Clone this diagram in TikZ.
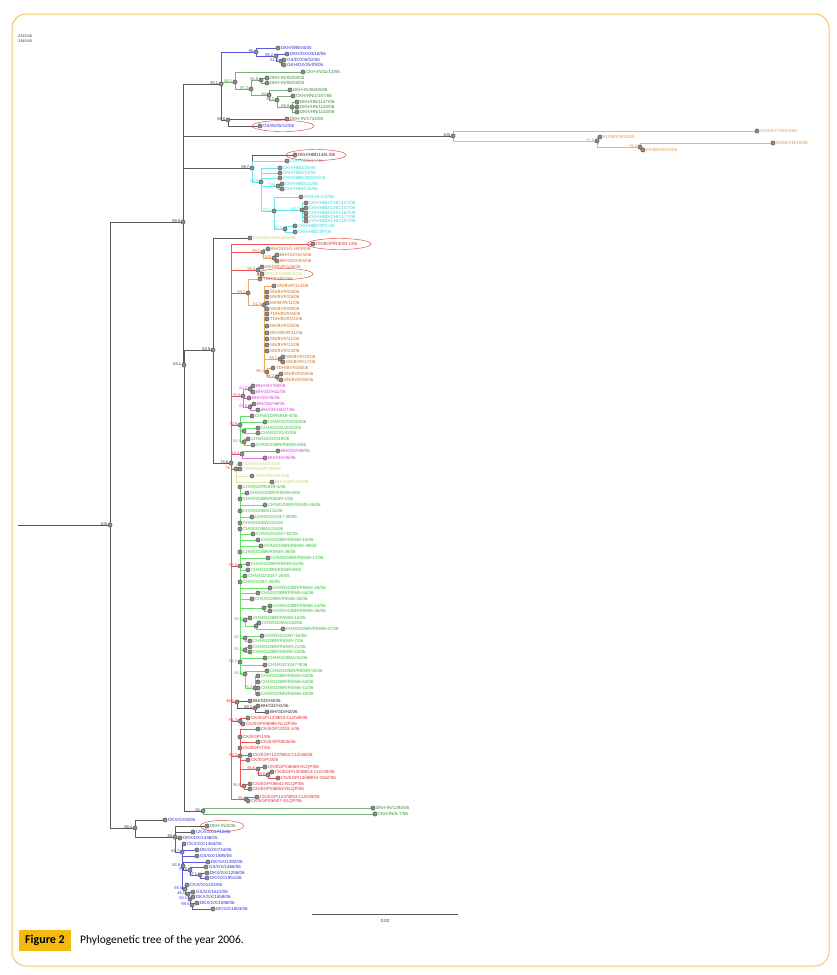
\documentclass[tikz,border=0pt]{standalone}
\usepackage{fontspec}
\newfontfamily\lblfont{Liberation Sans}
\newfontfamily\capfont{Carlito}
\usetikzlibrary{shapes.geometric}
\pgfdeclarelayer{background}
\pgfsetlayers{background,main}
\definecolor{ndf}{HTML}{8C8C8C}
\definecolor{ndc}{HTML}{4A4A4A}
\definecolor{bkL}{HTML}{5A5A5A}
\definecolor{bkT}{HTML}{303030}
\definecolor{blT}{HTML}{3030D0}
\definecolor{blL}{HTML}{5858E0}
\definecolor{dgT}{HTML}{3A8A3A}
\definecolor{dgL}{HTML}{78B478}
\definecolor{orT}{HTML}{E8954A}
\definecolor{orL}{HTML}{F2B27A}
\definecolor{cyT}{HTML}{30D8D8}
\definecolor{cyL}{HTML}{66EAEA}
\definecolor{rdT}{HTML}{E03030}
\definecolor{rdL}{HTML}{F05454}
\definecolor{brT}{HTML}{D07020}
\definecolor{brL}{HTML}{F4A858}
\definecolor{mgT}{HTML}{D040D0}
\definecolor{mgL}{HTML}{E070E0}
\definecolor{grT}{HTML}{30C030}
\definecolor{grL}{HTML}{66E066}
\definecolor{ylT}{HTML}{CFCF7A}
\definecolor{ylL}{HTML}{E6E6AA}
\definecolor{hlc}{HTML}{E04040}
\definecolor{frm}{HTML}{F6C366}
\definecolor{capy}{HTML}{F5B90F}
\tikzset{
  nd/.style={circle,draw=ndc,fill=ndf,line width=0.35pt,inner sep=0pt,minimum size=4.3pt},
  lab/.style={font={\lblfont\fontsize{4.5}{5}\selectfont},inner sep=0.5pt},
  bs/.style={font={\lblfont\fontsize{4}{4.5}\selectfont},inner sep=0.4pt,yshift=1pt},
  edge/.style={line width=0.55pt},
  hl/.style={ellipse,draw=hlc,line width=0.45pt,inner sep=0pt},
}
\newcommand\mkleaves[2]{\foreach \n/\x/\y/\tx in {#2}{\node[nd,label={[lab,text=#1]right:\tx}] (\n) at (\x,\y) {};}}
\newcommand\mkinner[2]{\foreach \n/\x/\y/\bv in {#2}{\node[nd,label={[bs,text=#1]left:\bv}] (\n) at (\x,\y) {};}}
\newcommand\mkedges[2]{\foreach \pa/\ch in {#2}{\draw[edge,#1] (\pa.center) |- (\ch.center);}}
\begin{document}
\begin{tikzpicture}[x=1pt,y=-1pt]
\useasboundingbox (0,0) rectangle (837,975);
\draw[frm,line width=1pt,rounded corners=14pt] (12,14) rectangle (829,966);
% top-left numbers
\node[font={\lblfont\fontsize{3.8}{4}\selectfont},text=bkT,anchor=west,inner sep=0pt] (num1) at (18,36) {2315.06};
\node[font={\lblfont\fontsize{3.8}{4}\selectfont},text=bkT,anchor=west,inner sep=0pt] (num2) at (18,41) {3340.66};
% ---------------- inner nodes
\mkinner{bkT}{R/110/525/{100}, N999/183/222/{99.9}, N631/184/365/{63.1}, N639/213/350/{63.9}, N984/135/828/{98.4}, N931/221/84/{93.1}, N968/228/120/{96.8}, Nor/453/136/{100}, N746/231/463/{74.6}, N80/175/837/{80}, N61/203/811/{61}, Ncy/252/168/{99.7}, N892/255/708/{89.2}}
\mkinner{blT}{N98/256/52/{98}, N992/276/56/{99.2}, N513/281/61/{51.3}, N617/182/852/{61.7}, N828/183/866/{82.8}, N99u/190/870/{99.6}, N971/200/875/{97.1}, N594/185/889/{59.4}, N461/188/894/{46.1}, N921/190/899/{92.1}, N993/192/905/{99.3}}
\mkinner{dgT}{N581/235/82/{58.1}, N972/251/89/{97.2}, N918/261/80/{91.8}, N64/269/95/{64}, N983/277/100/{98.3}, N999g/292/107/{99.9}}
\mkinner{orT}{N978/597/141/{97.8}, N922/640/147/{92.2}}
\mkinner{cyT}{N984c/261/182/{98.4}, N94/278/186/{94}, N631c/274/211/{63.1}, N857/302/210/{85.7}, N653/285/229/{65.3}}
\mkinner{brT}{N992r/263/252/{99.2}, N100b/274/258/{100}, N988/258/270/{98.8}, N992b/248/293/{99.2}, N615/264/305/{61.5}, N981/280/359/{98.1}, N962/267/372/{96.2}, N882/277/377/{88.2}}
\mkinner{mgT}{N784/243/396/{78.4}, N643/250/389/{64.3}, N638/250/407/{63.8}, N644/242/454/{64.4}}
\mkinner{grT}{Nq/244/431/{}, N519/244/442/{51.9}, Nz1/264/608/{}, N943/245/620/{94.3}, Nz2/256/626/{}, N822/245/638/{82.2}, N818/245/650/{81.8}, N961/240/662/{96.1}, N934/245/674/{93.4}, N783/255/688/{78.3}}
\mkinner{rdT}{N728/240/425/{72.8}, N574/240/566/{57.4}, Ny/236/469/{74.1}, N994/237/702/{99.4}, N913/240/721/{91.3}, N823/240/756/{82.3}, N956/258/769/{95.6}, N998/268/775/{99.8}, N905/244/786/{90.5}, N61r/246/799/{61}}
% ---------------- leaves
\mkleaves{blT}{b1/278/48/{DKH/WB/04/05}, b2/287/54/{DKH/DX/03/18/06}, b3/284/60/{GS/DX/05/02/06}, b4/284/65/{GKH/DX/05/09/06}, b5/260/126/{GS/IN/05/12/06}, u1/165/820/{DKX/GX/6/06}, u3/193/832/{CKX/GX/1712/06}, u4/180/838/{DKH/DX/1436/05}, u5/184/844/{CKX/GX/1463/05}, u6/197/850/{DK/GX/0744/06}, u7/197/856/{GS/GX/1889/06}, u8/208/862/{DK/GX/1392/06}, u9/206/867/{GS/GX/1466/06}, u10/207/873/{DKX/GX/1258/06}, u11/207/878/{CK/GX/1951/06}, u12/187/885/{CKX/GX/224/06}, u13/193/892/{GS/GX/1623/06}, u14/193/897/{DKX/GX/1558/06}, u15/197/903/{DKX/GX/1598/06}, u16/213/909/{DK/GX/1603/06}}
\mkleaves{dgT}{g1/303/72/{CKH-IN/11/13/06}, g2/267/78/{DKH-IN/05/03/05}, g3/267/83/{DKH-IN/08/03/05}, g4/290/90/{DKH-IN/06/05/06}, g5/293/96/{CKH/HNG/157/06}, g6/297/102/{DKH/HN/1147/06}, g7/297/107/{DKH/HN/1150/06}, g8/297/112/{DKH/HN/1152/06}, g9/287/119/{DKH-IN/1744/05}, gl1/373/808/{DKH-IN/1294/06}, gl2/375/814/{CKH/IN/A-7/06}, u2/207/826/{DKH-IN/2/06}}
\mkleaves{orT}{o1/757/131/{CKH/KY/VN/13/06}, o2/600/137/{MJ/IB/VN/11/06}, o3/773/143/{MJ/IB/VN/10/06}, o4/643/150/{FA/IB/VN/14/06}}
\mkleaves{bkT}{k0/295/155/{DKH/HBD14AL/06}, k1/250/701/{BH/GD/H4/06}, k2/258/706/{BH/GD/H1/06}, k3/267/712/{BH/GD/H2/06}}
\mkleaves{cyT}{c1/287/161/{CKH/HBD/15/06}, c2/280/168/{CKH/HBD/26/06}, c3/280/173/{CKH/HBD/19/06}, c4/280/178/{CKH/HBD/28DUS/06}, c5/282/184/{CKH/HBD/31/06}, c6/282/189/{CKH/HBD/34/06}, c7/301/197/{CKH/HLC/4/06}, c8/306/203/{CKH/HBD/CHC/157/06}, c9/306/208/{CKH/HBD/CHC/147/06}, c10/306/213/{CKH/HBD/CHC/167/06}, c11/306/217/{CKH/HBD/CHC/177/06}, c12/306/221/{CKH/HBD/CHC/187/06}, c13/295/226/{CKH/HBD/3PC/06}, c14/295/232/{CKH/HBD/3P/06}}
\mkleaves{ylT}{huadu/250/238/{CKH/GD/S/Huadu/06}, y1/262/274/{FCC/RSD/BK/1/06}, y2/240/464/{TDH/GD/RZ/07/06}, y3/240/469/{TDH/GD/MY/08/06}, y4/252/476/{TDH/GD/H/12/06}, y5/272/482/{BH/GD/PL/07/06}}
\mkleaves{rdT}{r1/313/244/{CK/BGP/R/E08-1/06}, e1/248/718/{CK/EGP/1238N3-CLEVB/06}, e2/243/724/{CK/EGP/06985-NLQP/06}, e3/258/729/{CK/EGP/2253-1/06}, e4/240/737/{CK/EGP/1/06}, e5/258/742/{CK/EGP/0626/06}, e6/240/748/{CK/EGP/7/06}, e7/250/755/{CK/EGP/1237BN3-CLEVB/06}, e8/248/760/{CK/EGP/3/06}, e9/265/767/{CK/EGP/06569-NLQP/06}, e10/272/772/{CK/EGP/1304BN3-CLEVB/06}, e11/278/778/{CK/EGP/1306BN3-GMZ/06}, e12/250/784/{CK/EGP/06641-NLQP/06}, e13/250/789/{CK/EGP/06653-NLQP/06}, e14/257/797/{CK/EGP/1237BN3-CLEVB/05}, e15/248/801/{CK/EGP/06507-NLQP/06}}
\mkleaves{brT}{h1/268/249/{BH/GD/H1-H4/R/06}, h2/277/255/{BH/GD/H2/5/06}, h3/277/261/{BH/GD/H3/5/06}, m1/262/267/{MSN/BVR/126/06}, t1/260/279/{TDH/BVR/2/06}, s1/274/286/{SN/BVR/114/06}, s2/267/292/{SN/BVR/03/06}, s3/267/297/{SN/BVR/05/06}, s4/267/303/{MA/BVR/11/06}, s5/267/309/{SN/BVR/08/06}, s6/267/314/{TDH/BVR/A/06}, s7/267/319/{TDH/BVR/21/06}, s8/267/326/{SN/BVR/25/06}, s9/267/333/{DDH/BVR/11/06}, s10/267/339/{SN/BVR/21/06}, s11/267/345/{SN/BVR/12/06}, s12/267/351/{SN/BVR/24/06}, s13/283/357/{SN/BVR/15/06}, s14/283/362/{SN/BVR/17/06}, s15/273/368/{TDH/BVR/26/06}, s16/281/374/{SN/BVR/04/06}, s17/281/380/{SN/BVR/05/06}}
\mkleaves{mgT}{p1/253/386/{BH/HSY/08/06}, p2/253/392/{BH/GD/H11/06}, p3/249/398/{BH/GD/H5/06}, p4/254/404/{BH/GD/H6/06}, p5/258/410/{BH/GD/H4/07/06}, p6/278/451/{BH/GD/H/8/06}, p7/265/458/{BH/GD/H6/06}}
\mkleaves{grT}{q1/252/416/{CHN/GD/R5948-4/06}, q2/265/422/{CHN/GD/GD/44/06}, q3/258/428/{CHN/GD/G/1033/06}, q4/258/433/{CHN/GD/G/42/06}, q5/248/439/{CHN/GD/GD/49/06}, q6/253/445/{CHN/GD/BR/R5948-6/06},
 z1/240/487/{CHN/GD/R5949-4/06}, z2/247/493/{CHN/GD/BR/R5949-5/06}, z3/240/499/{CHN/GD/BR/R5949-1/06}, z4/265/505/{CHN/GD/BR/R5949-45/06}, z5/240/511/{CHN/GD/BA/211/06}, z6/252/517/{CHN/GD/1047-38/05}, z7/240/523/{CHN/GD/BA/210/06}, z8/240/529/{CHN/GD/BA/215/06}, z9/253/534/{CHN/GD/1047-62/05}, z10/258/540/{CHN/GD/BR/R5948-15/06}, z11/261/546/{CHN/GD/BR/R5948-39/06}, z12/240/552/{CHN/GD/BR/R5949-38/06}, z13/268/558/{CHN/GD/BR/R5948-17/06}, z14/248/564/{CHN/GD/BR/R5949-61/06}, z15/248/570/{CHN/GD/BR/R5949-8/06}, z16/245/576/{CHN/GD/1047-26/05}, z17/240/582/{CHN/GD/67-28/06}, z18/270/588/{CHN/GD/BR/R5944-26/06}, z19/258/593/{CHN/GD/BR/R5946-55/06}, z20/252/599/{CHN/GD/BR/R5946-30/06},
 z21/270/606/{CHN/GD/BR/R5946-24/06}, z22/270/611/{CHN/GD/BR/R5946-36/06}, z23/250/618/{CHN/GD/BR/R5949-14/06}, z24/259/623/{CHN/GD/BA/218/06}, z25/283/629/{CHN/GD/BR/R5948-47/06}, z26/262/636/{CHN/GD/1047-54/06}, z27/250/641/{CHN/GD/BR/R5949-7/06}, z28/250/647/{CHN/GD/BR/R5949-21/06}, z29/250/652/{CHN/GD/BR/R5949-22/06}, z30/265/658/{CHN/GD/BA/211/06}, z31/265/665/{CHN/GD/1047-9/06}, z32/267/671/{CHN/GD/BR/R5949-50/06}, z33/258/676/{CHN/GD/BR/R5946-53/06}, z34/258/682/{CHN/GD/BR/R5946-54/06}, z35/258/688/{CHN/GD/BR/R5946-41/06}, z36/258/694/{CHN/GD/BR/R5946-44/06}}
% ---------------- highlight ellipses
\node[hl,minimum width=62pt,minimum height=11pt] (hl1) at ([xshift=23pt]b5.center) {};
\node[hl,minimum width=60pt,minimum height=11pt] (hl2) at ([xshift=21pt]k0.center) {};
\node[hl,minimum width=64pt,minimum height=11pt] (hl3) at ([xshift=26pt]r1.center) {};
\node[hl,minimum width=56pt,minimum height=11pt] (hl4) at ([xshift=23pt]y1.center) {};
\node[hl,minimum width=44pt,minimum height=11pt] (hl5) at ([xshift=15pt]u2.center) {};
% ---------------- edges
\begin{pgfonlayer}{background}
\coordinate (stub) at (18,525);
\draw[edge,bkL] (stub) -- (R.center);
\mkedges{bkL}{R/N999, R/N984, N999/N931, N999/Nor, N999/Ncy, N999/N631, N631/N639, N631/N61, N639/huadu, N639/N746, N931/N968, N968/b5, N968/g9, Ncy/k0, N984/u1, N984/N80, N80/u2, N80/u3, N80/u4, N994/k1, N994/N892, N892/k2, N892/k3}
\mkedges{blL}{N931/N98, N98/b1, N98/N992, N992/b2, N992/N513, N513/b3, N513/b4, N80/N617, N617/u5, N617/u6, N617/u7, N617/N828, N617/N594, N828/u8, N828/N99u, N99u/u9, N99u/N971, N971/u10, N971/u11, N594/u12, N594/N461, N461/u13, N461/N921, N921/u14, N921/N993, N993/u15, N993/u16}
\mkedges{dgL}{N931/N581, N581/g1, N581/N972, N972/N918, N918/g2, N918/g3, N972/N64, N64/g4, N64/N983, N983/g5, N983/N999g, N999g/g6, N999g/g7, N999g/g8, N61/gl1, N61/gl2}
\mkedges{orL}{Nor/o1, Nor/N978, N978/o2, N978/N922, N922/o3, N922/o4}
\mkedges{cyL}{Ncy/c1, Ncy/N984c, N984c/c2, N984c/c3, N984c/c4, N984c/N94, N94/c5, N94/c6, N984c/N631c, N631c/c7, N631c/N857, N857/c8, N857/c9, N857/c10, N857/c11, N857/c12, N631c/N653, N653/c13, N653/c14}
\mkedges{rdL}{N746/r1, N746/N992r, N746/N988, N746/N992b, N746/N784, N746/N728, N746/N644, N746/Ny, N746/N574, N746/N994, N746/N913, N746/N823, N746/N61r, N913/e1, N913/e2, N823/e3, N823/e4, N823/e5, N823/e6, N823/e7, N823/e8, N823/N956, N956/e9, N956/N998, N998/e10, N998/e11, N823/N905, N905/e12, N905/e13, N61r/e14, N61r/e15}
\mkedges{brL}{N992r/h1, N992r/N100b, N100b/h2, N100b/h3, N988/m1, N988/y1, N992b/t1, N992b/N615, N615/s1, N615/s2, N615/s3, N615/s4, N615/s5, N615/s6, N615/s7, N615/s8, N615/s9, N615/s10, N615/s11, N615/s12, N615/N981, N981/s13, N981/s14, N615/N962, N962/s15, N962/N882, N882/s16, N882/s17}
\mkedges{mgL}{N784/N643, N643/p1, N643/p2, N784/p3, N784/N638, N638/p4, N638/p5, N644/p6, N644/p7}
\mkedges{grL}{N728/q1, N728/q2, N728/Nq, Nq/q3, Nq/q4, N728/N519, N519/q5, N519/q6, N574/z1, N574/z2, N574/z3, N574/z4, N574/z5, N574/z6, N574/z7, N574/z8, N574/z9, N574/z10, N574/z11, N574/z12, N574/z13, N574/z14, N574/z15, N574/z16, N574/z17, N574/z18, N574/z19, N574/z20, N574/Nz1, Nz1/z21, Nz1/z22, N574/N943, N943/z23, N943/Nz2, Nz2/z24, Nz2/z25, N574/N822, N822/z26, N822/z27, N574/N818, N818/z28, N818/z29, N574/N961, N961/z30, N961/z31, N574/N934, N934/z32, N934/N783, N783/z33, N783/z34, N783/z35, N783/z36}
\mkedges{ylL}{Ny/y2, Ny/y3, Ny/y4, Ny/y5}
\end{pgfonlayer}
% ---------------- scale bar
\coordinate (sb1) at (312,914);
\coordinate (sb2) at (458,914);
\draw[bkL,line width=0.6pt] (sb1) -- (sb2);
\node[font={\lblfont\fontsize{4.4}{5}\selectfont},text=bkT,inner sep=0pt] (sbl) at (385,921) {0.02};
% ---------------- caption
\node[fill=capy,minimum width=52pt,minimum height=21pt,inner sep=0pt,font={\capfont\bfseries\fontsize{12}{14}\selectfont}] (figlab) at (45,940) {Figure 2};
\node[anchor=west,inner sep=0pt,font={\capfont\fontsize{11.5}{14}\selectfont}] (captxt) at (80,940) {Phylogenetic tree of the year 2006.};
\end{tikzpicture}
\end{document}
